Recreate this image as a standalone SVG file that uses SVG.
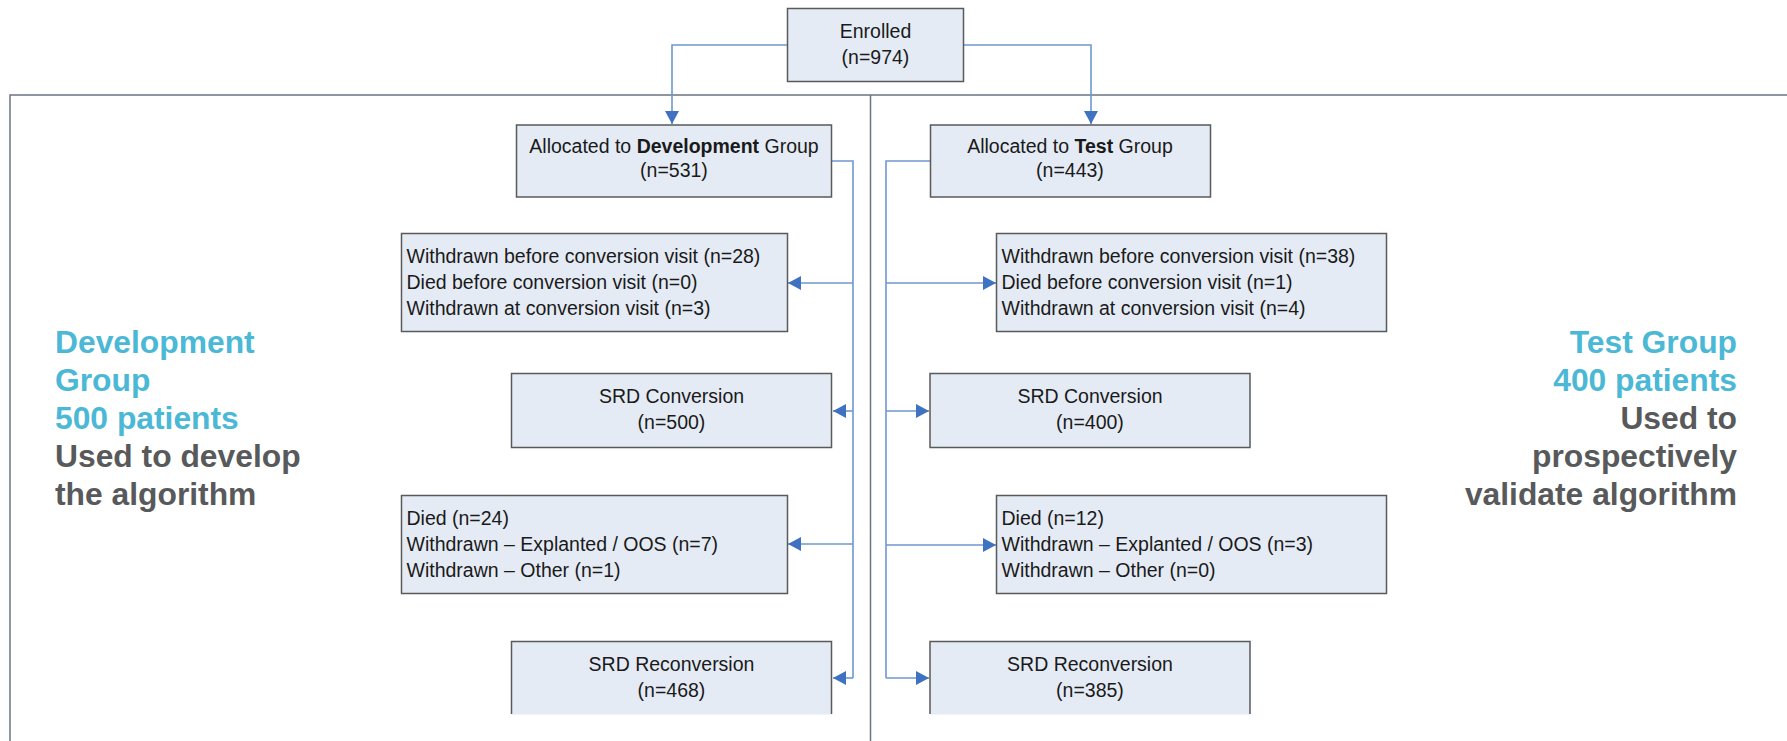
<svg xmlns="http://www.w3.org/2000/svg" width="1787" height="741" viewBox="0 0 1787 741">
<style>
.box{fill:#E4EBF5;stroke:#5a5a5a;stroke-width:1.5}
.t{font-family:"Liberation Sans",Arial,sans-serif;font-size:19.5px;fill:#1a1a1a}
.c{text-anchor:middle}
.conn{fill:none;stroke:#6F97CF;stroke-width:1.6}
.frame{fill:none;stroke:#6b7480;stroke-width:1.5}
.big{font-family:"Liberation Sans",Arial,sans-serif;font-size:31.8px;font-weight:bold}
.blue{fill:#4BB8D6}
.gray{fill:#58595B}
</style>
<defs>
<marker id="ah" markerUnits="userSpaceOnUse" markerWidth="14" markerHeight="14" refX="13" refY="7" orient="auto">
<path d="M0,0 L13,7 L0,14 z" fill="#3F72C1"/>
</marker>
</defs>
<rect width="1787" height="741" fill="#ffffff"/>
<g id="frame">
<path class="frame" d="M10,741 V95 H1787"/>
<path class="frame" d="M870.5,95 V741"/>
</g>
<g id="connectors">
<path class="conn" d="M787,45 H672 V124" marker-end="url(#ah)"/>
<path class="conn" d="M963,45 H1091 V124" marker-end="url(#ah)"/>
<path class="conn" d="M832,161 H853 V678"/>
<path class="conn" d="M853,283 H788" marker-end="url(#ah)"/>
<path class="conn" d="M853,411 H833" marker-end="url(#ah)"/>
<path class="conn" d="M853,544 H788" marker-end="url(#ah)"/>
<path class="conn" d="M853,678 H833" marker-end="url(#ah)"/>
<path class="conn" d="M930,161 H886 V678"/>
<path class="conn" d="M886,283 H996" marker-end="url(#ah)"/>
<path class="conn" d="M886,411 H929" marker-end="url(#ah)"/>
<path class="conn" d="M886,545 H996" marker-end="url(#ah)"/>
<path class="conn" d="M886,678 H929" marker-end="url(#ah)"/>
</g>
<g id="enrolled">
<rect class="box" x="787.5" y="8.5" width="176" height="73"/>
<text class="t c" x="875.5" y="38">Enrolled</text>
<text class="t c" x="875.5" y="64">(n=974)</text>
</g>
<g id="dev-alloc">
<rect class="box" x="516.5" y="125" width="315" height="72"/>
<text class="t c" x="674" y="153">Allocated to <tspan font-weight="bold">Development</tspan> Group</text>
<text class="t c" x="674" y="177">(n=531)</text>
</g>
<g id="test-alloc">
<rect class="box" x="930.5" y="125" width="280" height="72"/>
<text class="t c" x="1070" y="153">Allocated to <tspan font-weight="bold">Test</tspan> Group</text>
<text class="t c" x="1070" y="177">(n=443)</text>
</g>
<g id="dev-withdrawn">
<rect class="box" x="401.5" y="233.5" width="386" height="98"/>
<text class="t" x="406.5" y="263">Withdrawn before conversion visit (n=28)</text>
<text class="t" x="406.5" y="289">Died before conversion visit (n=0)</text>
<text class="t" x="406.5" y="315">Withdrawn at conversion visit (n=3)</text>
</g>
<g id="test-withdrawn">
<rect class="box" x="996.5" y="233.5" width="390" height="98"/>
<text class="t" x="1001.5" y="263">Withdrawn before conversion visit (n=38)</text>
<text class="t" x="1001.5" y="289">Died before conversion visit (n=1)</text>
<text class="t" x="1001.5" y="315">Withdrawn at conversion visit (n=4)</text>
</g>
<g id="dev-conversion">
<rect class="box" x="511.5" y="373.5" width="320" height="74"/>
<text class="t c" x="671.5" y="403">SRD Conversion</text>
<text class="t c" x="671.5" y="429">(n=500)</text>
</g>
<g id="test-conversion">
<rect class="box" x="930" y="373.5" width="320" height="74"/>
<text class="t c" x="1090" y="403">SRD Conversion</text>
<text class="t c" x="1090" y="429">(n=400)</text>
</g>
<g id="dev-died">
<rect class="box" x="401.5" y="495.5" width="386" height="98"/>
<text class="t" x="406.5" y="525">Died (n=24)</text>
<text class="t" x="406.5" y="551">Withdrawn – Explanted / OOS (n=7)</text>
<text class="t" x="406.5" y="577">Withdrawn – Other (n=1)</text>
</g>
<g id="test-died">
<rect class="box" x="996.5" y="495.5" width="390" height="98"/>
<text class="t" x="1001.5" y="525">Died (n=12)</text>
<text class="t" x="1001.5" y="551">Withdrawn – Explanted / OOS (n=3)</text>
<text class="t" x="1001.5" y="577">Withdrawn – Other (n=0)</text>
</g>
<g id="dev-reconversion">
<rect x="511.5" y="641.5" width="320" height="73" fill="#E4EBF5"/>
<path d="M511.5,714 V641.5 H831.5 V714" fill="none" stroke="#5a5a5a" stroke-width="1.5"/>
<text class="t c" x="671.5" y="671">SRD Reconversion</text>
<text class="t c" x="671.5" y="697">(n=468)</text>
</g>
<g id="test-reconversion">
<rect x="930" y="641.5" width="320" height="73" fill="#E4EBF5"/>
<path d="M930,714 V641.5 H1250 V714" fill="none" stroke="#5a5a5a" stroke-width="1.5"/>
<text class="t c" x="1090" y="671">SRD Reconversion</text>
<text class="t c" x="1090" y="697">(n=385)</text>
</g>
<g id="dev-label">
<text class="big blue" x="55" y="353">Development</text>
<text class="big blue" x="55" y="391">Group</text>
<text class="big blue" x="55" y="429">500 patients</text>
<text class="big gray" x="55" y="467">Used to develop</text>
<text class="big gray" x="55" y="505">the algorithm</text>
</g>
<g id="test-label">
<text class="big blue" x="1737" y="353" text-anchor="end">Test Group</text>
<text class="big blue" x="1737" y="391" text-anchor="end">400 patients</text>
<text class="big gray" x="1737" y="429" text-anchor="end">Used to</text>
<text class="big gray" x="1737" y="467" text-anchor="end">prospectively</text>
<text class="big gray" x="1737" y="505" text-anchor="end">validate algorithm</text>
</g>
</svg>
